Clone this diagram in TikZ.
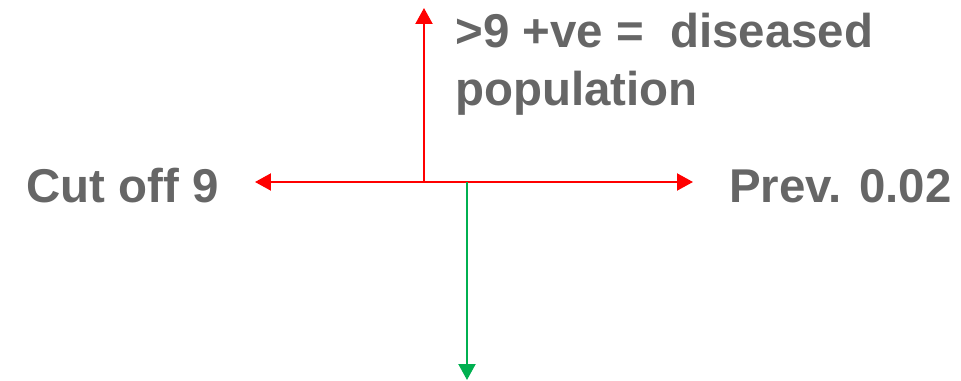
\documentclass[tikz,border=0pt]{standalone}
\usepackage{fontspec}
\setmainfont{Liberation Sans}
\usetikzlibrary{arrows.meta,positioning}
\definecolor{labelgray}{RGB}{102,102,102}
\definecolor{axisred}{RGB}{255,0,0}
\definecolor{axisgreen}{RGB}{0,176,80}
\tikzset{
 label/.style={text=labelgray,font=\bfseries\fontsize{27}{33}\selectfont,inner sep=0pt,align=left},
 redarrow/.style={draw=axisred,line width=1.2pt,-{Triangle[length=3.2mm,width=3.4mm]}},
 greenarrow/.style={draw=axisgreen,line width=1.2pt,-{Triangle[length=3.2mm,width=3.4mm]}}
}

\begin{document}
\begin{tikzpicture}[x=0.02cm,y=-0.02cm]
\useasboundingbox (0,0) rectangle (961,381);
% axis points
\coordinate (origin) at (424,182);
\coordinate (split) at (467,182);
\coordinate (left) at (255,182);
\coordinate (right) at (693,182);
\coordinate (top) at (424,8);
\coordinate (bottom) at (467,380);
% labels
\node[label,anchor=east] (cutoff) at (219,186) {Cut off 9};
\node[label,anchor=west] (prev) at (729,186) {Prev. 0.02};
\node[label,anchor=north west] (diseased) at (455,13) {>9 +ve =\ \ diseased\\population};
% arrows
\draw[redarrow] (origin) -- (left);
\draw[redarrow] (origin) -- (right);
\draw[redarrow] (origin) -- (top);
\draw[greenarrow] (split) -- (bottom);
\end{tikzpicture}
\end{document}
